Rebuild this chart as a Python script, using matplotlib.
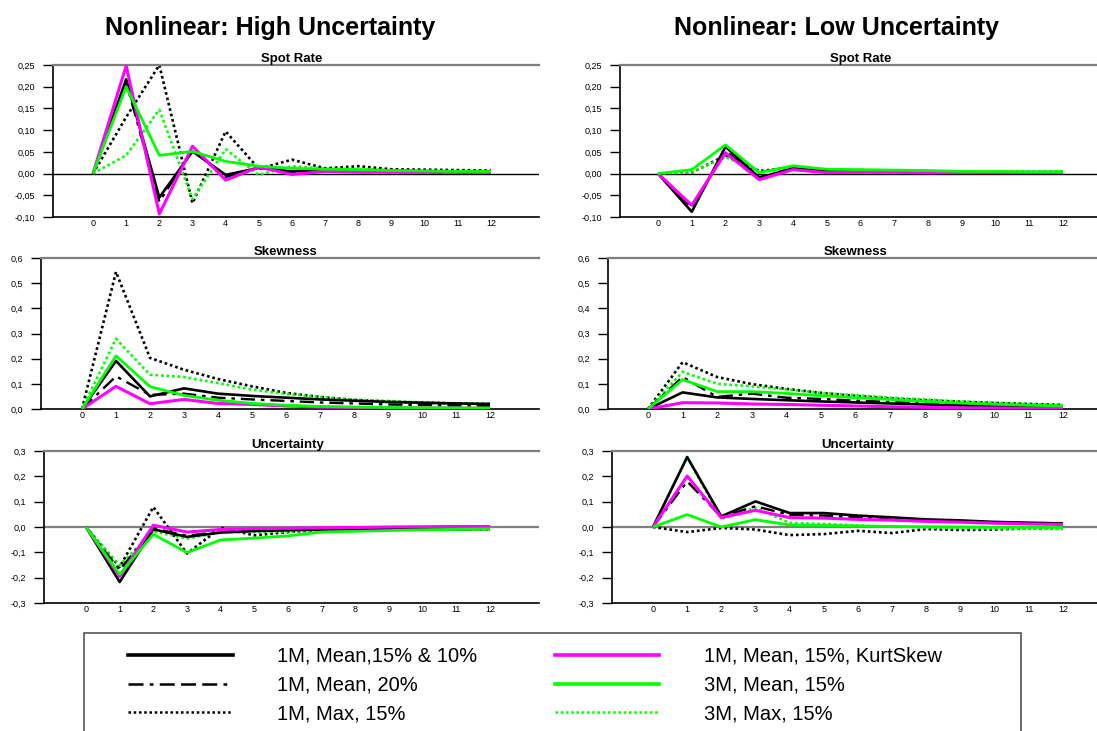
import matplotlib
matplotlib.use("Agg")
import matplotlib.pyplot as plt
from matplotlib.lines import Line2D
from matplotlib.patches import Rectangle
from matplotlib.ticker import FixedLocator, FixedFormatter

plt.rcParams['font.family'] = ['Liberation Sans', 'DejaVu Sans']

# ---------------- data ----------------
horizons = list(range(13))
x_labels = [str(h) for h in horizons]

series_labels = ["1M, Mean,15% & 10%", "1M, Mean, 20%", "1M, Max, 15%",
                 "1M, Mean, 15%, KurtSkew", "3M, Mean, 15%", "3M, Max, 15%"]

column_titles = ["Nonlinear: High Uncertainty", "Nonlinear: Low Uncertainty"]
row_titles = ["Spot Rate", "Skewness", "Uncertainty"]

spot_ticks = [-0.10, -0.05, 0.00, 0.05, 0.10, 0.15, 0.20, 0.25]
spot_tick_labels = ["-0,10", "-0,05", "0,00", "0,05", "0,10", "0,15", "0,20", "0,25"]
skew_ticks = [0.0, 0.1, 0.2, 0.3, 0.4, 0.5, 0.6]
skew_tick_labels = ["0,0", "0,1", "0,2", "0,3", "0,4", "0,5", "0,6"]
unc_ticks = [-0.3, -0.2, -0.1, 0.0, 0.1, 0.2, 0.3]
unc_tick_labels = ["-0,3", "-0,2", "-0,1", "0,0", "0,1", "0,2", "0,3"]

# High uncertainty - spot rate
hs_mean = [0, 0.217, -0.055, 0.051, -0.003, 0.013, 0.005, 0.007, 0.005, 0.004, 0.004, 0.004, 0.004]
hs_mean20 = [0, 0.210, -0.065, 0.055, -0.008, 0.014, 0.003, 0.006, 0.004, 0.004, 0.003, 0.003, 0.003]
hs_max = [0, 0.130, 0.250, -0.068, 0.097, 0.011, 0.032, 0.012, 0.017, 0.010, 0.009, 0.008, 0.007]
hs_kurt = [0, 0.248, -0.093, 0.063, -0.015, 0.015, -0.002, 0.005, 0.003, 0.003, 0.003, 0.003, 0.003]
hs_3m = [0, 0.200, 0.042, 0.051, 0.028, 0.017, 0.012, 0.010, 0.009, 0.007, 0.006, 0.005, 0.005]
hs_3mmax = [0, 0.042, 0.147, -0.059, 0.056, -0.003, 0.017, 0.011, 0.010, 0.008, 0.006, 0.005, 0.005]

# Low uncertainty - spot rate
ls_mean = [0, -0.088, 0.062, -0.010, 0.012, 0.005, 0.004, 0.004, 0.004, 0.003, 0.003, 0.003, 0.003]
ls_mean20 = [0, -0.078, 0.052, -0.008, 0.010, 0.004, 0.004, 0.003, 0.003, 0.003, 0.003, 0.002, 0.002]
ls_max = [0, 0.002, 0.042, 0.006, 0.014, 0.008, 0.008, 0.006, 0.005, 0.004, 0.004, 0.004, 0.004]
ls_kurt = [0, -0.073, 0.048, -0.014, 0.009, 0.002, 0.003, 0.003, 0.002, 0.002, 0.002, 0.002, 0.002]
ls_3m = [0, 0.009, 0.066, 0.002, 0.018, 0.010, 0.009, 0.008, 0.007, 0.005, 0.005, 0.004, 0.004]
ls_3mmax = [0, 0.003, 0.038, 0.003, 0.012, 0.007, 0.007, 0.006, 0.005, 0.005, 0.004, 0.004, 0.004]

# High uncertainty - skewness
hk_mean = [0, 0.191, 0.050, 0.082, 0.061, 0.052, 0.045, 0.038, 0.033, 0.028, 0.025, 0.022, 0.020]
hk_mean20 = [0, 0.130, 0.056, 0.061, 0.045, 0.038, 0.032, 0.026, 0.022, 0.018, 0.016, 0.014, 0.013]
hk_max = [0, 0.545, 0.203, 0.156, 0.119, 0.090, 0.064, 0.048, 0.036, 0.030, 0.025, 0.022, 0.020]
hk_kurt = [0, 0.090, 0.021, 0.038, 0.022, 0.018, 0.012, 0.008, 0.006, 0.005, 0.004, 0.003, 0.003]
hk_3m = [0, 0.211, 0.089, 0.054, 0.035, 0.022, 0.015, 0.010, 0.008, 0.006, 0.005, 0.004, 0.004]
hk_3mmax = [0, 0.279, 0.136, 0.127, 0.103, 0.077, 0.060, 0.048, 0.037, 0.032, 0.026, 0.022, 0.020]

# Low uncertainty - skewness
lk_mean = [0, 0.066, 0.046, 0.040, 0.035, 0.030, 0.026, 0.022, 0.018, 0.014, 0.011, 0.009, 0.007]
lk_mean20 = [0, 0.127, 0.048, 0.061, 0.045, 0.040, 0.033, 0.028, 0.022, 0.017, 0.013, 0.010, 0.008]
lk_max = [0, 0.186, 0.127, 0.099, 0.080, 0.064, 0.052, 0.042, 0.035, 0.029, 0.024, 0.020, 0.016]
lk_kurt = [0, 0.025, 0.024, 0.020, 0.018, 0.015, 0.012, 0.009, 0.007, 0.005, 0.004, 0.003, 0.002]
lk_3m = [0, 0.117, 0.069, 0.069, 0.062, 0.053, 0.045, 0.038, 0.030, 0.024, 0.019, 0.015, 0.012]
lk_3mmax = [0, 0.148, 0.100, 0.090, 0.078, 0.064, 0.055, 0.045, 0.038, 0.030, 0.025, 0.020, 0.016]

# High uncertainty - uncertainty
hu_mean = [0, -0.217, -0.009, -0.039, -0.022, -0.016, -0.013, -0.010, -0.009, -0.008, -0.008, -0.008, -0.008]
hu_mean20 = [0, -0.170, -0.005, -0.035, -0.018, -0.012, -0.010, -0.009, -0.008, -0.008, -0.008, -0.008, -0.008]
hu_max = [0, -0.158, 0.079, -0.105, -0.003, -0.033, -0.020, -0.012, -0.008, -0.006, -0.006, -0.006, -0.006]
hu_kurt = [0, -0.195, 0.007, -0.020, -0.010, -0.006, -0.005, -0.003, -0.002, 0.000, 0.001, 0.002, 0.002]
hu_3m = [0, -0.187, -0.029, -0.101, -0.051, -0.044, -0.035, -0.020, -0.017, -0.014, -0.011, -0.009, -0.007]
hu_3mmax = [0, -0.151, -0.017, -0.046, -0.020, -0.020, -0.018, -0.016, -0.014, -0.012, -0.011, -0.010, -0.009]

# Low uncertainty - uncertainty
lu_mean = [0, 0.276, 0.042, 0.101, 0.055, 0.055, 0.045, 0.038, 0.030, 0.026, 0.020, 0.017, 0.014]
lu_mean20 = [0, 0.180, 0.040, 0.082, 0.048, 0.045, 0.038, 0.032, 0.026, 0.022, 0.018, 0.015, 0.012]
lu_max = [0, -0.020, -0.004, -0.010, -0.032, -0.028, -0.015, -0.024, -0.008, -0.012, -0.010, -0.006, -0.005]
lu_kurt = [0, 0.201, 0.037, 0.066, 0.037, 0.035, 0.030, 0.027, 0.022, 0.019, 0.015, 0.012, 0.010]
lu_3m = [0, 0.049, 0.000, 0.029, 0.008, 0.006, 0.004, 0.002, 0.001, 0.000, -0.001, -0.001, -0.002]
lu_3mmax = [0, 0.276, 0.032, 0.076, 0.016, 0.012, 0.006, 0.001, -0.002, -0.004, -0.006, -0.007, -0.008]

# ---------------- styles ----------------
DASHDOT = (0, (6, 2.5, 1.5, 2.5))
DOT = (0, (1, 1.1))
MAGENTA = "#FF00FF"
GREEN = "#00FF00"
styles = [
    dict(color="black", lw=1.9, ls="-"),
    dict(color="black", lw=1.7, ls=DASHDOT),
    dict(color="black", lw=1.9, ls=DOT),
    dict(color=MAGENTA, lw=2.2, ls="-"),
    dict(color=GREEN, lw=2.0, ls="-"),
    dict(color=GREEN, lw=1.9, ls=DOT),
]
draw_order = [2, 5, 1, 0, 3, 4]

W, H = 1097, 731
fig = plt.figure(figsize=(W / 100, H / 100), dpi=100)

# panel geometry in pixels: (left spine, x of tick 0, x of tick 12, top, bottom, right)
geom = {
    (0, 0): (53, 93, 491, 65, 217, 539),
    (1, 0): (41, 82, 490, 258, 409, 539),
    (2, 0): (44, 86, 490, 451, 603, 539),
    (0, 1): (620, 658, 1063, 65, 217, 1097),
    (1, 1): (608, 648, 1063, 258, 409, 1097),
    (2, 1): (612, 653, 1063, 451, 603, 1097),
}

panels = {
    (0, 0): [hs_mean, hs_mean20, hs_max, hs_kurt, hs_3m, hs_3mmax],
    (0, 1): [ls_mean, ls_mean20, ls_max, ls_kurt, ls_3m, ls_3mmax],
    (1, 0): [hk_mean, hk_mean20, hk_max, hk_kurt, hk_3m, hk_3mmax],
    (1, 1): [lk_mean, lk_mean20, lk_max, lk_kurt, lk_3m, lk_3mmax],
    (2, 0): [hu_mean, hu_mean20, hu_max, hu_kurt, hu_3m, hu_3mmax],
    (2, 1): [lu_mean, lu_mean20, lu_max, lu_kurt, lu_3m, lu_3mmax],
}
row_ticks = [(spot_ticks, spot_tick_labels), (skew_ticks, skew_tick_labels),
             (unc_ticks, unc_tick_labels)]

for (r, c), series in panels.items():
    L, T0, T12, top, bot, R = geom[(r, c)]
    ax = fig.add_axes([L / W, 1 - bot / H, (R - L) / W, (bot - top) / H])
    ax.set_facecolor("none")
    step = (T12 - T0) / 12.0
    ax.set_xlim((L - T0) / step, (R - T0) / step)
    ticks, tlabels = row_ticks[r]
    ax.set_ylim(ticks[0], ticks[-1])
    ax.yaxis.set_major_locator(FixedLocator(ticks))
    ax.yaxis.set_major_formatter(FixedFormatter(tlabels))
    ax.xaxis.set_major_locator(FixedLocator(horizons))
    ax.xaxis.set_major_formatter(FixedFormatter(x_labels))
    ax.tick_params(axis="y", length=7, width=1.0, pad=6, labelsize=6.5, direction="out")
    ax.tick_params(axis="x", length=0, pad=1.5, labelsize=6.5)
    ax.spines["right"].set_visible(False)
    ax.spines["top"].set_color("#7f7f7f")
    ax.spines["top"].set_linewidth(1.6)
    ax.spines["left"].set_linewidth(1.2)
    ax.spines["bottom"].set_linewidth(1.2)
    if r == 0:
        ax.axhline(0, color="black", lw=1.0, zorder=1)
    elif r == 2:
        ax.axhline(0, color="#7f7f7f", lw=1.6, zorder=1)
    for k in draw_order:
        ax.plot(horizons, series[k], solid_capstyle="butt", zorder=2 + draw_order.index(k),
                **styles[k])
    mid = ((T0 + T12) / 2.0 - L) / (R - L)
    ax.set_title(row_titles[r], fontsize=9.5, fontweight="bold", pad=1.5, x=mid)

for c, title in enumerate(column_titles):
    cx = [270, 837][c]
    fig.text(cx / W, 1 - 28 / H, title, ha="center", va="center",
             fontsize=18, fontweight="bold")

# legend frame
fig.patches.append(Rectangle((84 / W, 1 - 745 / H), (1021 - 84) / W, (745 - 633) / H,
                             transform=fig.transFigure, fill=False,
                             edgecolor="#555555", lw=1.2))
leg_styles = [
    dict(color="black", lw=2.6, ls="-"),
    dict(color="black", lw=1.8, ls=(0, (6, 2.5, 1.5, 2.5, 6, 2.5, 6, 2.5))),
    dict(color="black", lw=1.8, ls=DOT),
    dict(color=MAGENTA, lw=2.6, ls="-"),
    dict(color=GREEN, lw=2.6, ls="-"),
    dict(color=GREEN, lw=1.8, ls=DOT),
]
handles = [Line2D([], [], **s) for s in leg_styles]
fig.legend(handles, series_labels, ncol=2, loc="upper left",
           bbox_to_anchor=(128 / W, 1 - 647 / H), frameon=False, borderpad=0,
           handlelength=5.2, handletextpad=2.2, columnspacing=3.85,
           labelspacing=0.48, fontsize=14.5, borderaxespad=0)

fig.savefig("out.png", dpi=100)
